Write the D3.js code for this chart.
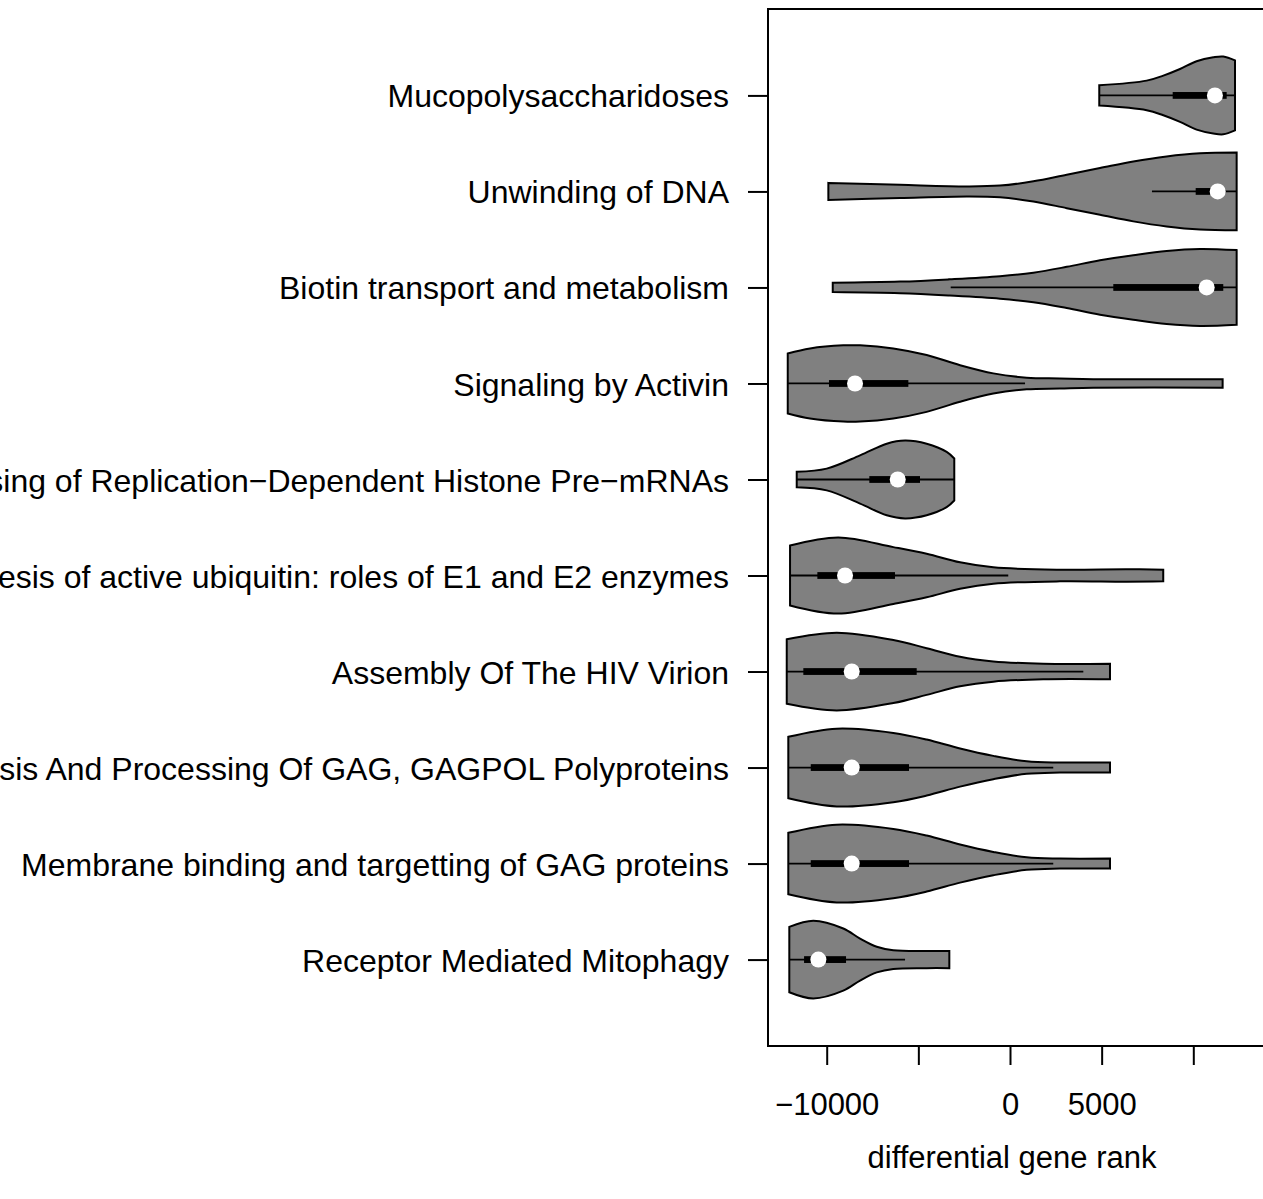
<!DOCTYPE html>
<html>
<head>
<meta charset="utf-8">
<script src="https://cdn.jsdelivr.net/npm/d3@7"></script>
<style>
  body { margin: 0; background: #fff; }
  svg { display: block; }
  text { font-family: "Liberation Sans", Arial, sans-serif; }
</style>
</head>
<body>
<div id="chart"></div>
<script>
// pathways, top to bottom
const categories = [
  "Mucopolysaccharidoses",
  "Unwinding of DNA",
  "Biotin transport and metabolism",
  "Signaling by Activin",
  "Processing of Replication\u2212Dependent Histone Pre\u2212mRNAs",
  "Synthesis of active ubiquitin: roles of E1 and E2 enzymes",
  "Assembly Of The HIV Virion",
  "Synthesis And Processing Of GAG, GAGPOL Polyproteins",
  "Membrane binding and targetting of GAG proteins",
  "Receptor Mediated Mitophagy"
];

// density outline: evaluation points (gene rank) and relative width (max = 1)
const densityRank = [
  [4870, 7455, 8365, 9275, 10180, 11090, 11635, 12275],
  [-9910, -6000, -2360, -545, 1275, 3095, 4910, 6725, 8545, 10365, 12365],
  [-9670, -6000, -3275, -545, 1275, 3095, 4910, 6725, 8545, 10365, 12365],
  [-12125, -10910, -9095, -8180, -6365, -4545, -2725, -910, 910, 2725, 4545, 11600],
  [-11635, -10000, -8180, -6725, -5725, -4545, -3455, -3040],
  [-12000, -9365, -6365, -4545, -2725, -910, 2725, 6365, 8360],
  [-12180, -9455, -6365, -4545, -2725, -910, 1815, 5455],
  [-12095, -9455, -6365, -4545, -2725, -910, 910, 2725, 5455],
  [-12095, -9455, -6365, -4545, -2725, -910, 910, 2725, 5455],
  [-12040, -10730, -9095, -8180, -7270, -6365, -4545, -3310]
];
const densityWidth = [
  [0.26, 0.38, 0.51, 0.68, 0.88, 0.98, 1.0, 0.90],
  [0.22, 0.17, 0.13, 0.15, 0.26, 0.43, 0.60, 0.77, 0.90, 0.98, 1.0],
  [0.12, 0.15, 0.21, 0.29, 0.38, 0.53, 0.70, 0.83, 0.94, 0.99, 0.96],
  [0.77, 0.90, 0.98, 0.98, 0.90, 0.73, 0.47, 0.26, 0.15, 0.13, 0.11, 0.11],
  [0.20, 0.28, 0.62, 0.92, 1.0, 0.92, 0.71, 0.54],
  [0.77, 0.98, 0.73, 0.56, 0.34, 0.21, 0.15, 0.16, 0.15],
  [0.83, 1.0, 0.81, 0.60, 0.38, 0.26, 0.20, 0.20],
  [0.79, 1.0, 0.89, 0.72, 0.49, 0.30, 0.16, 0.13, 0.13],
  [0.79, 1.0, 0.89, 0.72, 0.49, 0.30, 0.16, 0.13, 0.13],
  [0.84, 1.0, 0.80, 0.54, 0.33, 0.24, 0.22, 0.22]
];

// boxplot summaries
const whiskerLow  = [4870, 7745, -3235, -12125, -11635, -12000, -12180, -12095, -12095, -12040];
const q1          = [8875, 10130, 5635, -9875, -7675, -10510, -11275, -10870, -10870, -11235];
const median      = [11180, 11330, 10730, -8455, -6125, -9000, -8635, -8635, -8635, -10455];
const q3          = [11820, 11600, 11635, -5545, -4910, -6275, -5090, -5510, -5510, -8945];
const whiskerHigh = [12275, 12365, 12365, 820, -3040, -95, 4000, 2360, 2360, -5725];

const tickValues = [-10000, -5000, 0, 5000, 10000];
const tickLabels = ["\u221210000", "", "0", "5000", ""];
const xTitle = "differential gene rank";

const width = 1263, height = 1199;
const plot = { left: 768, right: 1280, top: 9, bottom: 1046 };

const svg = d3.select("#chart").append("svg")
  .attr("width", width)
  .attr("height", height);

const x = d3.scaleLinear().domain([-10000, 10000]).range([826.7, 1193.3]);
const y = d3.scaleLinear().domain([0.1, categories.length + 0.9]).range([plot.bottom, plot.top]);
const pos = (i) => categories.length - i;
const halfW = d3.scaleLinear().domain([0, 1]).range([0, y(0) - y(0.405)]);

// violins
categories.forEach((c, i) => {
  const cy = y(pos(i));
  const pts = densityRank[i].map((r, k) => [r, densityWidth[i][k]]);
  const area = d3.area()
    .x(d => x(d[0]))
    .y0(d => cy + halfW(d[1]))
    .y1(d => cy - halfW(d[1]))
    .curve(d3.curveCatmullRom.alpha(0.5));

  svg.append("path")
    .attr("d", area(pts))
    .attr("fill", "#808080")
    .attr("stroke", "#000")
    .attr("stroke-width", 2);

  svg.append("line")
    .attr("x1", x(whiskerLow[i])).attr("x2", x(whiskerHigh[i]))
    .attr("y1", cy).attr("y2", cy)
    .attr("stroke", "#000").attr("stroke-width", 1.8);

  svg.append("rect")
    .attr("x", x(q1[i])).attr("width", x(q3[i]) - x(q1[i]))
    .attr("y", cy - 3.4).attr("height", 6.8)
    .attr("fill", "#000");

  svg.append("circle")
    .attr("cx", x(median[i])).attr("cy", cy).attr("r", 8)
    .attr("fill", "#fff");
});

// plot frame
svg.append("rect")
  .attr("x", plot.left).attr("y", plot.top)
  .attr("width", plot.right - plot.left).attr("height", plot.bottom - plot.top)
  .attr("fill", "none").attr("stroke", "#000").attr("stroke-width", 2);

// x axis
const xAxis = svg.append("g")
  .attr("transform", `translate(0,${plot.bottom})`)
  .call(d3.axisBottom(x).tickValues(tickValues).tickSize(19).tickFormat((d, i) => tickLabels[i]));
xAxis.select(".domain").remove();
xAxis.selectAll("line").attr("stroke-width", 2);
xAxis.selectAll("text")
  .attr("y", 69).attr("dy", null)
  .attr("font-size", 31).attr("font-family", "Liberation Sans, Arial, sans-serif")
  .attr("fill", "#000");

// y axis
const yAxis = svg.append("g")
  .attr("transform", `translate(${plot.left},0)`)
  .call(d3.axisLeft(y).tickValues(categories.map((c, i) => pos(i))).tickSize(20)
    .tickFormat(p => categories[categories.length - p]));
yAxis.select(".domain").remove();
yAxis.selectAll("line").attr("stroke-width", 2);
yAxis.selectAll("text")
  .attr("x", -39).attr("dy", "0.36em")
  .attr("font-size", 32).attr("font-family", "Liberation Sans, Arial, sans-serif")
  .attr("fill", "#000");

svg.append("text")
  .attr("x", 1012).attr("y", 1168)
  .attr("text-anchor", "middle")
  .attr("font-size", 31)
  .text(xTitle);
</script>
</body>
</html>
